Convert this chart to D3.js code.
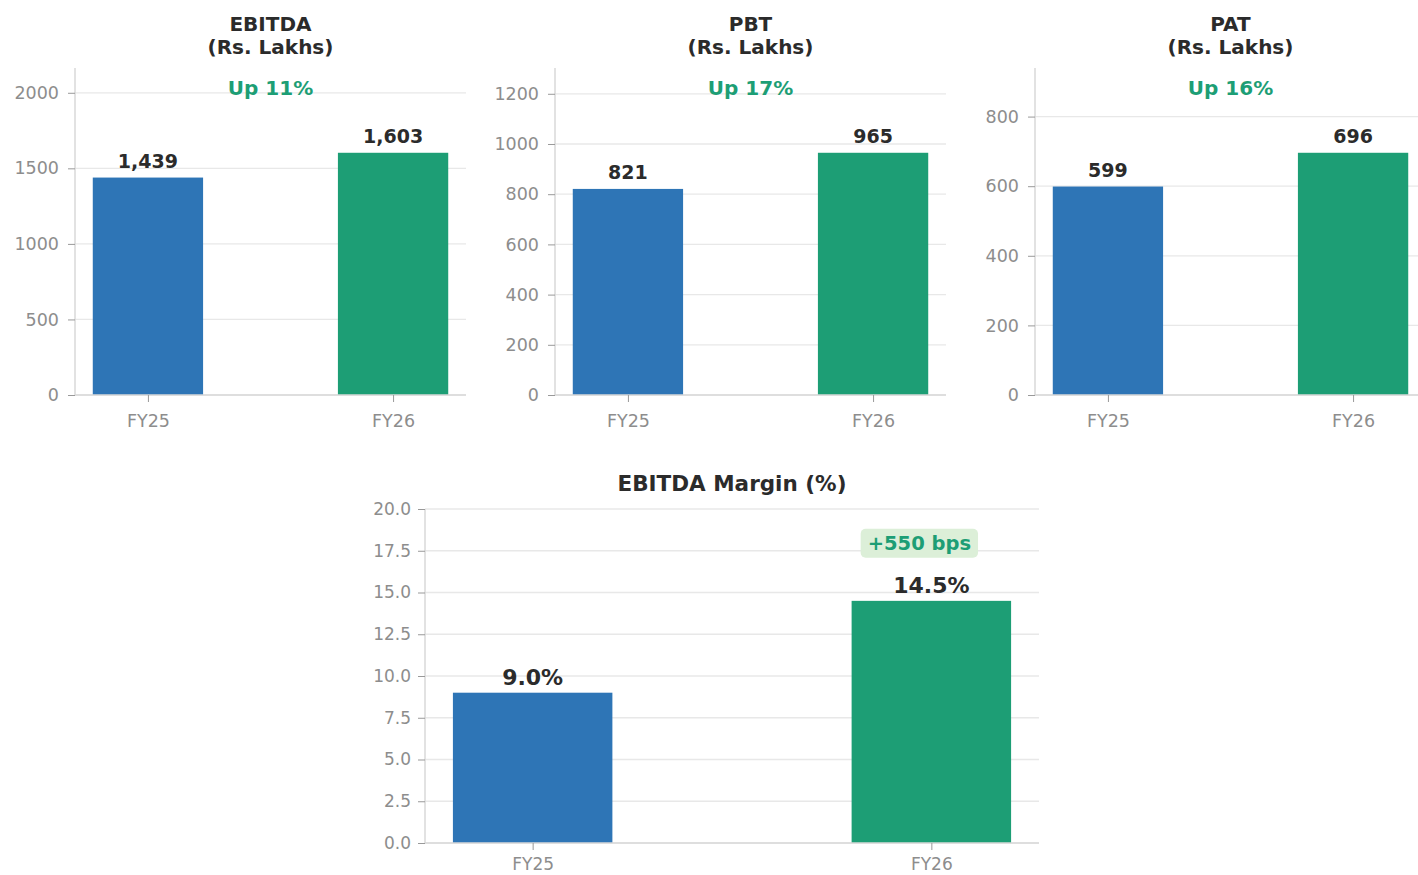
<!DOCTYPE html>
<html><head><meta charset="utf-8">
<script src="https://cdn.jsdelivr.net/npm/d3@7"></script>
<style>
body{margin:0;background:#fff;}
text{font-family:"DejaVu Sans",sans-serif;}
</style></head>
<body><svg id="c" width="1418" height="875"></svg>
<script>
const categories = ["FY25","FY26"];
const ebitda = [1439,1603];
const pbt = [821,965];
const pat = [599,696];
const margin = [9.0,14.5];
const ebitdaTicks = [0,500,1000,1500,2000];
const pbtTicks = [0,200,400,600,800,1000,1200];
const patTicks = [0,200,400,600,800];
const marginTicks = [0,2.5,5,7.5,10,12.5,15,17.5,20];
const growthLabels = ["Up 11%","Up 17%","Up 16%"];
const marginChange = "+550 bps";

const BLUE="#2E75B6", GREEN="#1D9E75", DARK="#2b2b2b", GRAY="#8d8d8d";
const svg=d3.select("#c");

function panel(o){
  const g=svg.append("g");
  const x=d3.scaleLinear().domain([-0.5*o.bw-0.05*(1+o.bw),1+0.5*o.bw+0.05*(1+o.bw)]).range([o.x0,o.x1]);
  const y=d3.scaleLinear().domain([0,o.ymax]).range([o.y1,o.y0]);
  g.selectAll(".grid").data(o.ticks).join("line")
    .attr("x1",o.x0).attr("x2",o.x1).attr("y1",d=>y(d)).attr("y2",d=>y(d))
    .attr("stroke","#e8e8e8").attr("stroke-width",1.3);
  g.selectAll(".bar").data(o.values).join("rect")
    .attr("x",(d,i)=>x(i-o.bw/2)).attr("width",(d,i)=>x(i+o.bw/2)-x(i-o.bw/2))
    .attr("y",d=>y(d)).attr("height",d=>y(0)-y(d))
    .attr("fill",(d,i)=>i===0?BLUE:GREEN);
  const ya=d3.axisLeft(y).tickValues(o.ticks).tickFormat(o.fmt).tickSize(7).tickPadding(o.yPad);
  const yg=g.append("g").attr("transform",`translate(${o.x0},0)`).call(ya);
  const xa=d3.axisBottom(x).tickValues([0,1]).tickFormat(i=>categories[i]).tickSize(7).tickPadding(o.xPad);
  const xg=g.append("g").attr("transform",`translate(0,${o.y1})`).call(xa);
  [yg,xg].forEach(a=>{
    a.select(".domain").attr("stroke","#d9d9d9").attr("stroke-width",1.5);
    a.selectAll(".tick line").attr("stroke","#999");
    a.selectAll(".tick text").attr("fill",GRAY).style("font-size",o.tickFs+"px")
      .style("font-family",'"DejaVu Sans",sans-serif');
  });
  yg.select(".domain").attr("d",`M0,${o.y0}V${o.y1}`);
  xg.select(".domain").attr("d",`M${o.x0},0H${o.x1}`);
  g.selectAll(".lbl").data(o.values).join("text")
    .attr("x",(d,i)=>x(i)).attr("y",d=>y(d)-o.lblOff)
    .attr("text-anchor","middle").attr("fill",DARK).attr("font-weight","bold")
    .style("font-size",o.lblFs+"px").text(o.lblFmt);
  o.title.forEach((t,k)=>{
    g.append("text").attr("x",o.titleX).attr("y",o.titleY+k*23)
      .attr("text-anchor","middle").attr("fill",DARK).attr("font-weight","bold")
      .style("font-size",o.titleFs+"px").text(t);
  });
  return {g,x,y};
}

const fmtComma=d3.format(",");
const tops=[
  {vals:ebitda,ticks:ebitdaTicks,name:"EBITDA",x0:75,x1:466},
  {vals:pbt,ticks:pbtTicks,name:"PBT",x0:555,x1:946},
  {vals:pat,ticks:patTicks,name:"PAT",x0:1035,x1:1426}
];
tops.forEach((t,k)=>{
  const cx=(t.x0+t.x1)/2;
  const p=panel({x0:t.x0,x1:t.x1,y0:68,y1:395,bw:0.45,values:t.vals,ymax:d3.max(t.vals)*1.35,
    ticks:t.ticks,fmt:d3.format("d"),tickFs:17.5,yPad:9,xPad:13,lblFs:19,lblOff:10,lblFmt:d=>fmtComma(d),
    title:[t.name,"(Rs. Lakhs)"],titleY:31,titleFs:20,titleX:cx});
  p.g.append("text").attr("x",cx).attr("y",95).attr("text-anchor","middle")
    .attr("fill",GREEN).attr("font-weight","bold").style("font-size","20px").text(growthLabels[k]);
});

const pm=panel({x0:425,x1:1039,y0:509,y1:843,bw:0.4,values:margin,ymax:20,ticks:marginTicks,
  fmt:d3.format(".1f"),tickFs:17,yPad:7,xPad:8,lblFs:22,lblOff:8,lblFmt:d=>d3.format(".1f")(d)+"%",
  title:["EBITDA Margin (%)"],titleY:491,titleFs:21.5,titleX:732});
const bx=pm.x(1)-12, by=pm.y(17.5)-8;
const bt=pm.g.append("text").attr("x",bx).attr("y",by+7).attr("text-anchor","middle")
  .attr("fill",GREEN).attr("font-weight","bold").style("font-size","19.5px").text(marginChange);
const bb=bt.node().getBBox();
pm.g.insert("rect",()=>bt.node()).attr("x",bb.x-7).attr("y",bb.y-3).attr("width",bb.width+14).attr("height",bb.height+6)
  .attr("rx",5).attr("fill","#dcefd8");
</script></body></html>
